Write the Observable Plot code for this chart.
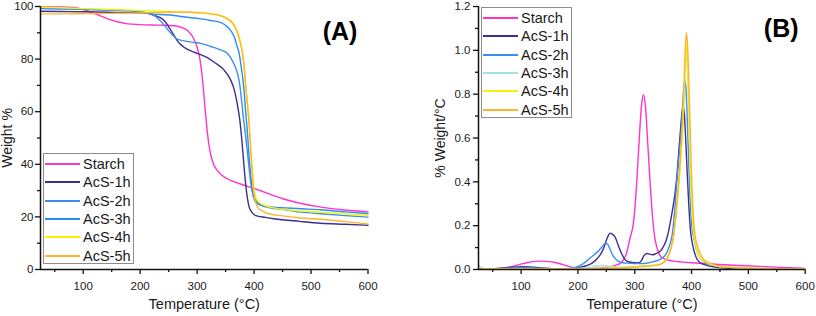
<!DOCTYPE html>
<html><head><meta charset="utf-8">
<script src="https://cdn.jsdelivr.net/npm/d3@7"></script>
<script src="https://cdn.jsdelivr.net/npm/@observablehq/plot@0.6"></script>
<style>
body{margin:0;background:#fff;}
#wrap{position:relative;width:816px;height:316px;overflow:hidden;font-family:"Liberation Sans",Arial,sans-serif;}
.panel{position:absolute;top:0;}
.legend{position:absolute;border:1px solid #8c8c8c;background:#fff;box-sizing:border-box;}
.legend .row{position:absolute;left:0;height:18px;width:100%;}
.legend .row svg{position:absolute;left:1px;top:0;}
.legend .row span{position:absolute;left:39px;top:0;line-height:18px;font-size:14.5px;color:#1a1a1a;white-space:nowrap;}
</style></head>
<body><div id="wrap"></div>
<script>
// ---------- data ----------
const seriesNames = ["Starch","AcS-1h","AcS-2h","AcS-3h","AcS-4h","AcS-5h"];
const colorsA = ["#ff33cc","#3f2d91","#3d8fef","#2d8cf0","#f5f500","#ffb52e"];
const colorsB = ["#ff33cc","#3f2d91","#3d8fef","#a0e4e0","#f5f500","#ffb52e"];

const xTicks = [100,200,300,400,500,600];
const xMinor = [50,150,250,350,450,550];
const yTicksA = [0,20,40,60,80,100];
const yMinorA = [10,30,50,70,90];
const yTicksB = [0,0.2,0.4,0.6,0.8,1.0,1.2];
const yMinorB = [0.1,0.3,0.5,0.7,0.9,1.1];

// (A) TGA: [temperature °C, weight %]
const tgaStarch = [[25,99.8],[60,99.8],[84,99.6],[100,98.8],[120,97.3],[143,95.3],[160,94.2],[178,93.4],[200,93.1],[230,92.9],[260,92.7],[275,91.9],[283,90.9],[292,88.6],[298,85.8],[303,82],[306,78.5],[310,71],[314,61],[318,52],[323,44.5],[328,40.5],[335,37.7],[345,35.6],[353,34.5],[375,32.6],[400,30.8],[430,28.5],[452,26.8],[483,25.1],[520,23.6],[560,22.6],[600,21.9]];
const tgaAcS1 = [[25,98.2],[60,98.1],[100,98],[143,97.8],[175,97.7],[201,97.6],[215,97.3],[224,96.6],[234,95.9],[242,94.7],[248,93],[254,90.9],[260,88.8],[265,87],[271,85.6],[277,84.5],[289,83.1],[300,82.2],[306,81.7],[318,80.6],[330,78.8],[347,75.9],[359,72],[365,68.5],[370,63.5],[375,56.7],[379,48],[382,40],[385,33],[388,27.5],[391,24],[396,21.8],[403,20.5],[420,19.8],[435,19.3],[480,18.3],[517,17.6],[560,17.2],[600,16.8]];
const tgaAcS2 = [[25,99.3],[100,98.9],[150,98.6],[201,98],[215,97.4],[224,96.6],[234,94.9],[242,93],[248,91.3],[254,89.8],[260,88.5],[265,87.6],[271,87.2],[295,86.3],[306,86],[324,84.8],[341,83.5],[353,82.2],[359,80.5],[365,78],[371,74.4],[375,70],[378,64.3],[381,58],[384,52.9],[388,45.2],[391,39],[393,35],[396,30.5],[400,27.5],[406,25.5],[412,24.5],[430,23.4],[452,22.8],[483,21.8],[517,21.2],[560,20.5],[600,19.9]];
const tgaAcS3 = [[25,99.2],[100,98.9],[150,98.7],[201,97.9],[224,97.1],[260,96.6],[271,96.2],[306,95.3],[324,94.7],[341,94],[353,92.3],[360,90.5],[365,88.6],[370,85],[374,82],[377,77.5],[380,73],[383,66.5],[385,60.5],[388,53],[390,46.5],[393,38],[396,31.5],[399,27.5],[403,25.5],[410,24.6],[430,23.8],[483,23.1],[517,22.7],[560,21.9],[600,21.3]];
const tgaAcS4 = [[25,99.7],[60,99.5],[100,99.2],[143,98.9],[200,98.5],[250,98.1],[271,97.9],[306,97.6],[341,96.6],[353,95.5],[359,94.7],[365,93],[371,90.2],[376,86.5],[380,82],[383,76.5],[385,70.6],[388,63.5],[391,56.7],[394,46.5],[397,38],[400,31],[403,27.5],[408,25.8],[415,24.7],[430,23.6],[458,22.7],[483,22.2],[517,21.8],[560,21.1],[600,20.6]];
const tgaAcS5 = [[25,97.2],[60,97.2],[100,97.3],[143,97.4],[200,97.6],[250,97.8],[271,97.9],[306,97.6],[341,96.5],[353,95.3],[359,94.4],[365,92.6],[371,89.8],[376,86],[380,81.5],[383,76],[385,70.6],[388,63.5],[391,56],[394,46],[397,35],[400,28.5],[403,25.5],[406,23.7],[415,22.2],[423,21.4],[450,20.4],[482,19.6],[517,19.1],[560,18.2],[600,17.3]];

// (B) DTG: [temperature °C, % weight/°C]
const dtgStarch = [[25,0.003],[45,0.002],[60,0.004],[80,0.012],[95,0.021],[112,0.032],[130,0.038],[145,0.037],[160,0.032],[175,0.021],[189,0.011],[200,0.006],[220,0.005],[236,0.006],[250,0.009],[260,0.014],[270,0.022],[277,0.033],[285,0.07],[292,0.147],[297,0.2],[300,0.27],[304,0.42],[308,0.6],[312,0.75],[315.5,0.797],[319,0.74],[323,0.57],[327,0.4],[331,0.25],[335,0.15],[339,0.1],[345,0.062],[352,0.049],[360,0.042],[369,0.038],[400,0.031],[428,0.026],[487,0.018],[545,0.011],[600,0.005]];
const dtgAcS1 = [[25,0.003],[50,0.004],[75,0.008],[100,0.013],[115,0.012],[135,0.007],[160,0.003],[185,0.002],[201,0.008],[213,0.016],[225,0.029],[234,0.05],[242,0.079],[247,0.11],[251,0.14],[254,0.158],[257,0.166],[261,0.16],[266,0.145],[271,0.11],[277,0.072],[283,0.045],[290,0.034],[300,0.031],[307,0.03],[312,0.042],[316,0.062],[321,0.073],[326,0.07],[331,0.067],[337,0.072],[343,0.08],[349,0.098],[355,0.13],[360,0.18],[365,0.25],[370,0.33],[374,0.42],[377,0.52],[380,0.62],[383,0.71],[385,0.745],[387,0.72],[389,0.63],[392,0.46],[395,0.3],[398,0.18],[402,0.11],[406,0.07],[414,0.033],[428,0.018],[458,0.007],[500,0.003],[600,0.001]];
const dtgAcS2 = [[25,0.003],[60,0.004],[90,0.007],[110,0.008],[140,0.005],[170,0.003],[190,0.006],[201,0.015],[210,0.028],[219,0.047],[228,0.066],[237,0.087],[243,0.105],[248,0.12],[251,0.118],[254,0.108],[257,0.09],[260,0.072],[264,0.055],[269,0.041],[276,0.033],[284,0.029],[300,0.027],[310,0.027],[325,0.031],[340,0.041],[348,0.052],[355,0.07],[360,0.1],[366,0.16],[370,0.26],[374,0.4],[378,0.52],[383,0.68],[386,0.82],[388,0.862],[390,0.83],[392,0.72],[394.5,0.52],[397,0.34],[400,0.21],[405,0.13],[411,0.072],[417,0.048],[423,0.033],[435,0.02],[447,0.014],[487,0.006],[540,0.003],[600,0.002]];
const dtgAcS3 = [[25,0.018],[30,0.01],[38,0.003],[100,0.003],[200,0.005],[225,0.012],[240,0.018],[255,0.015],[270,0.01],[300,0.013],[340,0.021],[350,0.031],[355,0.044],[360,0.068],[364,0.098],[368,0.148],[372,0.235],[376,0.35],[380,0.48],[384,0.64],[387,0.8],[389,0.93],[390.5,0.98],[392,0.95],[394,0.82],[396,0.63],[398,0.44],[401,0.25],[404,0.155],[408,0.105],[411,0.072],[417,0.048],[428,0.029],[445,0.015],[458,0.011],[517,0.005],[600,0.002]];
const dtgAcS4 = [[25,0.002],[100,0.003],[200,0.003],[250,0.006],[280,0.008],[310,0.015],[340,0.022],[350,0.032],[355,0.045],[360,0.07],[364,0.1],[368,0.15],[372,0.24],[376,0.33],[380,0.47],[384,0.62],[387,0.8],[389,0.95],[390.5,1.03],[392,0.99],[394,0.85],[396,0.66],[398,0.46],[401,0.27],[404,0.16],[408,0.11],[411,0.075],[417,0.05],[428,0.03],[445,0.016],[458,0.012],[517,0.005],[600,0.002]];
const dtgAcS5 = [[25,0.002],[100,0.003],[200,0.003],[250,0.005],[280,0.007],[310,0.013],[340,0.02],[350,0.03],[355,0.043],[360,0.068],[364,0.1],[368,0.15],[372,0.24],[376,0.36],[380,0.5],[384,0.68],[387,0.87],[389.5,1.04],[391,1.08],[393,1.02],[395,0.88],[397,0.7],[399.5,0.47],[402,0.3],[405,0.18],[409,0.12],[414,0.08],[420,0.05],[432,0.029],[464,0.01],[520,0.004],[600,0.002]];

const tgaSeries = [tgaStarch,tgaAcS1,tgaAcS2,tgaAcS3,tgaAcS4,tgaAcS5];
const dtgSeries = [dtgStarch,dtgAcS1,dtgAcS2,dtgAcS3,dtgAcS4,dtgAcS5];

// ---------- build ----------
const toRows = list => list.flatMap((pts,i) => pts.map(([T,v]) => ({series: seriesNames[i], T, v})));
const rowsA = toRows(tgaSeries);
const rowsB = toRows(dtgSeries);

const font = '"Liberation Sans", Arial, sans-serif';

function panel({rows, colors, yDomain, yTicks, yMinor, yFmt, ml, mr, ylabel, ylabelDx, tag, tagDx, tagDy, ytickPad}) {
  return Plot.plot({
    width: 408, height: 316,
    marginLeft: ml, marginRight: mr, marginTop: 6, marginBottom: 47,
    style: {fontFamily: font, fontSize: "11.5px", color: "#1a1a1a", background: "white", overflow: "visible"},
    x: {domain: [25, 600]},
    y: {domain: yDomain},
    color: {domain: seriesNames, range: colors},
    marks: [
      Plot.line(rows, {x: "T", y: "v", z: "series", stroke: "series", curve: "monotone-x", strokeWidth: 1.4}),
      Plot.axisX({ticks: xTicks, tickSize: 5, tickPadding: 7, label: null, stroke: "#111", strokeWidth: 1.3}),
      Plot.axisX({ticks: xMinor, tickSize: 3, tickFormat: () => "", label: null, stroke: "#111", strokeWidth: 1.3}),
      Plot.axisY({ticks: yTicks, tickSize: 5, tickPadding: ytickPad, tickFormat: yFmt, label: null, stroke: "#111", strokeWidth: 1.3}),
      Plot.axisY({ticks: yMinor, tickSize: 3, tickFormat: () => "", label: null, stroke: "#111", strokeWidth: 1.3}),
      Plot.ruleY([yDomain[0]], {stroke: "#111", strokeWidth: 1.5}),
      Plot.ruleX([25], {stroke: "#111", strokeWidth: 1.5}),
      Plot.text(["Temperature (°C)"], {frameAnchor: "bottom", dy: 35, lineAnchor: "middle", fontSize: 14.5, fill: "#1a1a1a"}),
      Plot.text([ylabel], {frameAnchor: "left", dx: ylabelDx, rotate: -90, textAnchor: "middle", lineAnchor: "middle", fontSize: 14, fill: "#1a1a1a"}),
      Plot.text([tag], {frameAnchor: "top-right", dx: tagDx, dy: tagDy, textAnchor: "middle", lineAnchor: "middle", fontSize: 25, fontWeight: "bold", fill: "#000"})
    ]
  });
}

const wrap = document.getElementById("wrap");

const A = panel({rows: rowsA, colors: colorsA, yDomain: [0, 100], yTicks: yTicksA, yMinor: yMinorA, yFmt: d3.format("d"),
  ml: 40, mr: 40.5, ylabel: "Weight %", ylabelDx: -33, tag: "(A)", tagDx: -28, tagDy: 25, ytickPad: 2});
const B = panel({rows: rowsB, colors: colorsB, yDomain: [0, 1.2], yTicks: yTicksB, yMinor: yMinorB, yFmt: d3.format(".1f"),
  ml: 70, mr: 11.3, ylabel: "% Weight/°C", ylabelDx: -38, tag: "(B)", tagDx: -24, tagDy: 22, ytickPad: 3});

const pa = document.createElement("div"); pa.className = "panel"; pa.style.left = "0px"; pa.appendChild(A); wrap.appendChild(pa);
const pb = document.createElement("div"); pb.className = "panel"; pb.style.left = "408px"; pb.appendChild(B); wrap.appendChild(pb);

function legend(left, top, colors) {
  const box = document.createElement("div");
  box.className = "legend";
  box.style.left = left + "px"; box.style.top = top + "px";
  box.style.width = "91px"; box.style.height = "111px";
  seriesNames.forEach((name, i) => {
    const row = document.createElement("div");
    row.className = "row";
    row.style.top = (1 + i * 18.3) + "px";
    row.innerHTML = `<svg width="36" height="18"><line x1="0" x2="35" y1="9" y2="9" stroke="${colors[i]}" stroke-width="2.2"/></svg><span>${name}</span>`;
    box.appendChild(row);
  });
  wrap.appendChild(box);
}
legend(43, 153, colorsA);
legend(481, 7, colorsB);
</script></body></html>
